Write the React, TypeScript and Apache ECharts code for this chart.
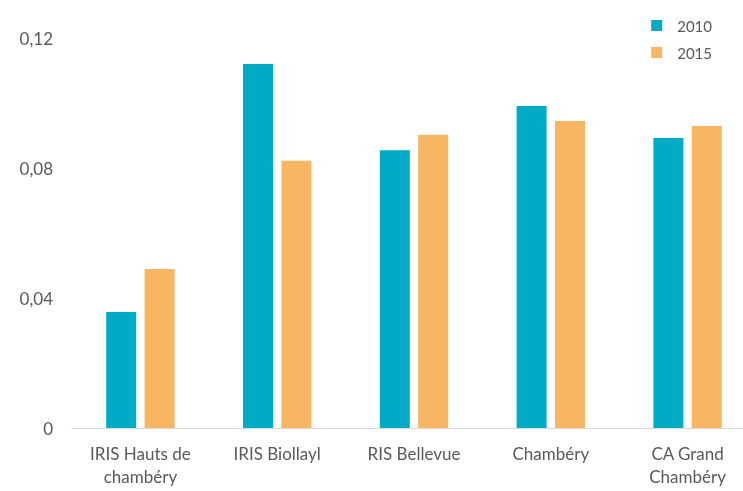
import React, { useEffect, useRef } from "react";
import * as echarts from "echarts";

const categories = ["IRIS Hauts de\nchambéry", "IRIS Biollayl", "RIS Bellevue", "Chambéry", "CA Grand\nChambéry"];
const values2010 = [0.0357, 0.112, 0.0855, 0.0991, 0.0892];
const values2015 = [0.0489, 0.0822, 0.0902, 0.0945, 0.0929];
const seriesNames = ["2010", "2015"];

export default function App() {
  const ref = useRef<HTMLDivElement>(null);
  useEffect(() => {
    const chart = echarts.init(ref.current!, null, { renderer: "svg" });
    chart.setOption({
      animation: false,
      textStyle: { fontFamily: "Lato, 'Open Sans', sans-serif" },
      legend: {
        orient: "vertical",
        right: 39,
        top: 13,
        itemWidth: 11,
        itemHeight: 11,
        itemGap: 12,
        icon: "rect",
        textStyle: { color: "#595959", fontSize: 15, padding: [0, 0, 0, 10] },
        data: seriesNames,
      },
      grid: { left: 72, right: 0, top: 38, bottom: 63, containLabel: false },
      xAxis: {
        type: "category",
        data: categories,
        axisLine: { show: true, lineStyle: { color: "#d9d9d9", width: 1 } },
        axisTick: { show: false },
        axisLabel: { color: "#595959", fontSize: 17, margin: 14, lineHeight: 23, interval: 0 },
      },
      yAxis: {
        type: "value",
        min: 0,
        max: 0.12,
        interval: 0.04,
        splitLine: { show: false },
        axisLine: { show: false },
        axisTick: { show: false },
        axisLabel: {
          color: "#595959",
          fontSize: 17,
          margin: 19,
          formatter: (v: number) => (v === 0 ? "0" : v.toFixed(2).replace(".", ",")),
        },
      },
      series: [
        {
          name: seriesNames[0],
          type: "bar",
          data: values2010,
          barWidth: 30,
          barGap: "28%",
          itemStyle: { color: "#00ABC6" },
        },
        {
          name: seriesNames[1],
          type: "bar",
          data: values2015,
          barWidth: 30,
          itemStyle: { color: "#F8B562" },
        },
      ],
    });
    return () => chart.dispose();
  }, []);
  return (
    <div style={{ position: "fixed", left: 0, top: 0, width: 743, height: 491, overflow: "hidden" }}>
      <div ref={ref} style={{ width: 756, height: 491 }} />
    </div>
  );
}
